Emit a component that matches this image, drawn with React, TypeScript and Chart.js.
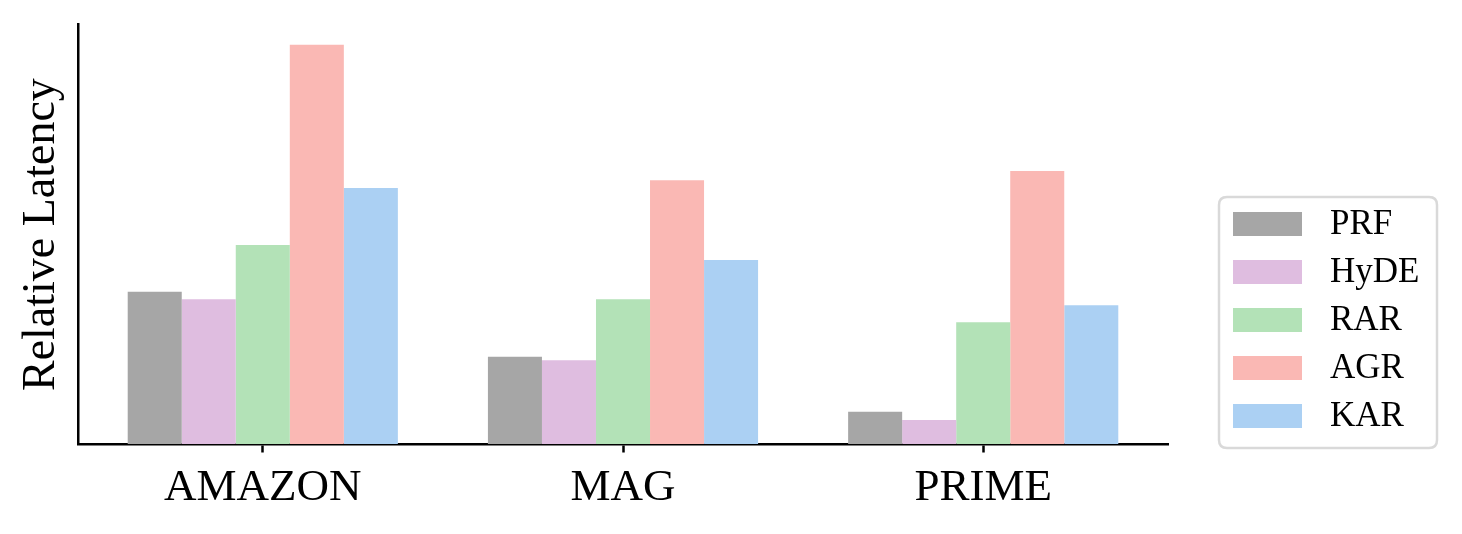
import React, { useEffect, useRef } from "react";
import { Chart, registerables } from "chart.js";

Chart.register(...registerables);

const categories = ["AMAZON", "MAG", "PRIME"];
const seriesNames = ["PRF", "HyDE", "RAR", "AGR", "KAR"];
const seriesColors = ["#a6a6a6", "#dfbde0", "#b3e2b7", "#fab8b4", "#abd0f3"];
const prf = [1.528, 0.878, 0.328];
const hyde = [1.452, 0.842, 0.245];
const rar = [1.995, 1.452, 1.222];
const agr = [3.998, 2.642, 2.735];
const kar = [2.565, 1.845, 1.392];
const seriesValues = [prf, hyde, rar, agr, kar];
const yMax = 4.198;

const FONT = "'Liberation Serif', 'Times New Roman', serif";

const legendPlugin = {
  id: "boxLegend",
  afterDraw(chart: any) {
    const ctx = chart.ctx;
    ctx.save();
    const bx = 1219, by = 197, bw = 218, bh = 251, r = 8;
    ctx.beginPath();
    ctx.moveTo(bx + r, by);
    ctx.lineTo(bx + bw - r, by);
    ctx.quadraticCurveTo(bx + bw, by, bx + bw, by + r);
    ctx.lineTo(bx + bw, by + bh - r);
    ctx.quadraticCurveTo(bx + bw, by + bh, bx + bw - r, by + bh);
    ctx.lineTo(bx + r, by + bh);
    ctx.quadraticCurveTo(bx, by + bh, bx, by + bh - r);
    ctx.lineTo(bx, by + r);
    ctx.quadraticCurveTo(bx, by, bx + r, by);
    ctx.closePath();
    ctx.fillStyle = "rgba(255,255,255,0.8)";
    ctx.fill();
    ctx.lineWidth = 2.5;
    ctx.strokeStyle = "#d9d9d9";
    ctx.stroke();
    chart.data.datasets.forEach((ds: any, i: number) => {
      const cy = 224 + i * 48;
      ctx.fillStyle = ds.backgroundColor;
      ctx.fillRect(1233, cy - 12, 69, 24);
      ctx.fillStyle = "#000";
      ctx.font = `35px ${FONT}`;
      ctx.textBaseline = "middle";
      ctx.textAlign = "left";
      ctx.fillText(ds.label, 1330, cy + 1);
    });
    ctx.restore();
  },
};

export default function App() {
  const ref = useRef<HTMLCanvasElement>(null);
  useEffect(() => {
    document.body.style.margin = "0";
    const chart = new Chart(ref.current!, {
      type: "bar",
      data: {
        datasets: seriesNames.map((name, i) => ({
          label: name,
          backgroundColor: seriesColors[i],
          data: seriesValues[i].map((v, j) => ({ x: j, y: v })),
          categoryPercentage: 0.75,
          barPercentage: 1.0,
          borderWidth: 0,
        })),
      },
      options: {
        animation: false,
        responsive: false,
        maintainAspectRatio: false,
        layout: { padding: { left: 0, right: 294, top: 24.7, bottom: 0 } },
        plugins: { legend: { display: false }, tooltip: { enabled: false } },
        scales: {
          x: {
            type: "linear",
            offset: false,
            min: -0.513,
            max: 2.513,
            afterBuildTicks: (scale: any) => {
              scale.ticks = categories.map((_, i) => ({ value: i }));
            },
            afterFit: (scale: any) => {
              scale.height = 89.5;
            },
            ticks: {
              callback: (v: any) => categories[v] ?? "",
              color: "#000",
              font: { family: FONT, size: 45 },
              padding: 9,
              maxRotation: 0,
              autoSkip: false,
            },
            grid: {
              offset: false,
              drawOnChartArea: false,
              drawTicks: true,
              tickLength: 8,
              tickWidth: 2.5,
              tickColor: "#000",
              color: "#000",
            },
            border: { display: true, color: "#000", width: 2.5 },
          },
          y: {
            min: 0,
            max: yMax,
            afterFit: (scale: any) => {
              scale.width = 78;
            },
            ticks: { display: false },
            grid: { drawOnChartArea: false, drawTicks: false },
            border: { display: true, color: "#000", width: 2.5 },
            title: {
              display: true,
              text: "Relative Latency",
              color: "#000",
              font: { family: FONT, size: 46 },
              padding: { top: 14, bottom: 0 },
            },
          },
        },
      },
      plugins: [legendPlugin],
    });
    return () => chart.destroy();
  }, []);
  return (
    <div style={{ width: 1462, height: 534 }}>
      <canvas ref={ref} width={1462} height={534} style={{ display: "block" }} />
    </div>
  );
}
